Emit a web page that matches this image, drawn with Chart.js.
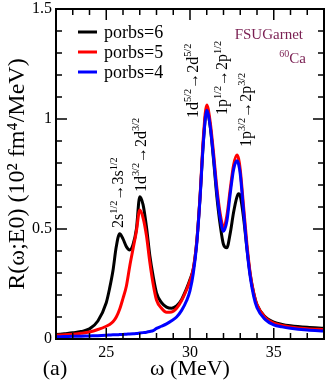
<!DOCTYPE html>
<html>
<head>
<meta charset="utf-8">
<script src="https://cdn.jsdelivr.net/npm/chart.js@4.4.0/dist/chart.umd.min.js"></script>
<style>
html, body { margin: 0; padding: 0; background: #fff; }
</style>
</head>
<body>
<canvas id="strength-chart" width="332" height="389"></canvas>
<script>
'use strict';

// excitation energy (MeV)
const energies = [22, 22.5, 23, 23.5, 24, 24.5, 25, 25.2, 25.4, 25.6, 25.8, 26, 26.2, 26.4, 26.6, 26.8,
    27, 27.2, 27.4, 27.6, 27.8, 28, 28.3, 28.6, 28.9, 29.2, 29.5, 29.8, 30, 30.2, 30.4, 30.6, 30.8,
    31, 31.2, 31.4, 31.6, 31.8, 32, 32.2, 32.4, 32.6, 32.8, 32.9, 33, 33.2, 33.4, 33.6, 33.8,
    34, 34.5, 35, 35.5, 36, 37, 38];

// R(w;E0) in 10^2 fm^4/MeV
const porbs6 = [0.020, 0.024, 0.028, 0.034, 0.046, 0.082, 0.165, 0.23, 0.31, 0.42, 0.478, 0.455, 0.42, 0.405, 0.43, 0.50,
    0.647, 0.61, 0.51, 0.38, 0.285, 0.21, 0.165, 0.145, 0.14, 0.15, 0.18, 0.23, 0.27, 0.32, 0.44, 0.645, 0.90,
    1.045, 0.97, 0.82, 0.65, 0.52, 0.43, 0.415, 0.48, 0.575, 0.645, 0.66, 0.65, 0.55, 0.41, 0.29, 0.21,
    0.155, 0.10, 0.077, 0.066, 0.06, 0.053, 0.049];
const porbs5 = [0.017, 0.019, 0.022, 0.026, 0.032, 0.043, 0.058, 0.066, 0.078, 0.10, 0.135, 0.185, 0.24, 0.33, 0.41, 0.49,
    0.586, 0.55, 0.47, 0.35, 0.25, 0.177, 0.14, 0.122, 0.123, 0.14, 0.175, 0.225, 0.265, 0.32, 0.44, 0.65, 0.92,
    1.064, 0.99, 0.85, 0.69, 0.57, 0.51, 0.56, 0.68, 0.79, 0.836, 0.82, 0.77, 0.60, 0.43, 0.295, 0.21,
    0.155, 0.097, 0.072, 0.062, 0.055, 0.047, 0.043];
const porbs4 = [0.010, 0.011, 0.012, 0.013, 0.014, 0.015, 0.017, 0.018, 0.019, 0.019, 0.020, 0.021, 0.022, 0.023, 0.024, 0.025,
    0.027, 0.029, 0.031, 0.034, 0.038, 0.048, 0.058, 0.069, 0.083, 0.10, 0.13, 0.175, 0.22, 0.30, 0.43, 0.64, 0.895,
    1.04, 0.97, 0.83, 0.67, 0.55, 0.49, 0.535, 0.66, 0.77, 0.81, 0.795, 0.75, 0.58, 0.41, 0.28, 0.195,
    0.142, 0.088, 0.064, 0.055, 0.049, 0.041, 0.036];

const seriesLabels = ['porbs=6', 'porbs=5', 'porbs=4'];
const seriesColors = ['#000000', '#ff0000', '#0000ff'];

const xTicks = [25, 30, 35];
const yTicks = [0, 0.5, 1, 1.5];

// transition labels: text pieces ([text, superscript?]), energy, strength where text starts
const transitionParts = [
    [['2s', 0], ['1/2', 1], ['\u21923s', 0], ['1/2', 1]],
    [['1d', 0], ['3/2', 1], ['\u21922d', 0], ['3/2', 1]],
    [['1d', 0], ['5/2', 1], ['\u21922d', 0], ['5/2', 1]],
    [['1p', 0], ['1/2', 1], ['\u21922p', 0], ['1/2', 1]],
    [['1p', 0], ['3/2', 1], ['\u21922p', 0], ['3/2', 1]]
];
const transitionE = [25.67, 26.99, 30.09, 31.88, 33.31];
const transitionR = [0.505, 0.668, 1.005, 1.018, 0.873];

const SERIF = '"Liberation Serif", "Times New Roman", serif';

function drawPieces(ctx, pieces, size) {
    let cx = 0;
    for (const [txt, sup] of pieces) {
        ctx.font = (sup ? size * 0.64 : size) + 'px ' + SERIF;
        ctx.fillText(txt, cx, sup ? -size * 0.4 : 0);
        cx += ctx.measureText(txt).width;
    }
}

const decorPlugin = {
    id: 'decor',
    afterDatasetsDraw(chart) {
        const ctx = chart.ctx;
        const a = chart.chartArea;
        const x = chart.scales.x;
        const y = chart.scales.y;
        ctx.save();

        // inward ticks on all four sides
        ctx.strokeStyle = '#000';
        ctx.lineWidth = 1.5;
        ctx.beginPath();
        for (let v = 23; v <= 37; v++) {
            const px = x.getPixelForValue(v);
            const len = v % 5 === 0 ? 11 : 6;
            ctx.moveTo(px, a.bottom); ctx.lineTo(px, a.bottom - len);
            ctx.moveTo(px, a.top); ctx.lineTo(px, a.top + len);
        }
        for (let i = 1; i < 15; i++) {
            const py = y.getPixelForValue(i / 10);
            const len = i % 5 === 0 ? 11 : 6;
            ctx.moveTo(a.left, py); ctx.lineTo(a.left + len, py);
            ctx.moveTo(a.right, py); ctx.lineTo(a.right - len, py);
        }
        ctx.stroke();

        ctx.lineWidth = 2;
        ctx.strokeRect(a.left, a.top, a.right - a.left, a.bottom - a.top);

        // legend
        ctx.textAlign = 'left';
        ctx.textBaseline = 'middle';
        ctx.font = '18px ' + SERIF;
        seriesLabels.forEach((label, i) => {
            const ly = 32 + i * 20;
            ctx.strokeStyle = seriesColors[i];
            ctx.lineWidth = 3;
            ctx.beginPath();
            ctx.moveTo(78, ly); ctx.lineTo(97, ly);
            ctx.stroke();
            ctx.fillStyle = '#000';
            ctx.fillText(label, 104, ly + 1);
        });

        // transition labels, rotated
        ctx.fillStyle = '#000';
        ctx.textBaseline = 'alphabetic';
        transitionParts.forEach((pieces, i) => {
            ctx.save();
            ctx.translate(x.getPixelForValue(transitionE[i]), y.getPixelForValue(transitionR[i]));
            ctx.rotate(-Math.PI / 2);
            ctx.translate(0, 6);
            drawPieces(ctx, pieces, 16);
            ctx.restore();
        });

        // model / nucleus
        ctx.fillStyle = '#7a1f52';
        ctx.textAlign = 'right';
        ctx.font = '15px ' + SERIF;
        ctx.fillText('FSUGarnet', 303, 39);
        ctx.fillText('Ca', 306, 63);
        const caW = ctx.measureText('Ca').width;
        ctx.font = '10px ' + SERIF;
        ctx.fillText('60', 306 - caW, 57);

        // panel label
        ctx.fillStyle = '#000';
        ctx.textAlign = 'center';
        ctx.textBaseline = 'middle';
        ctx.font = '22px ' + SERIF;
        ctx.fillText('(a)', 55, 369);
        ctx.restore();
    }
};

function makeDataset(i, values, order) {
    return {
        label: seriesLabels[i],
        data: energies.map((e, k) => ({ x: e, y: values[k] })),
        borderColor: seriesColors[i],
        backgroundColor: seriesColors[i],
        borderWidth: 3,
        pointRadius: 0,
        cubicInterpolationMode: 'monotone',
        fill: false,
        order: order
    };
}

const ctx = document.getElementById('strength-chart').getContext('2d');
new Chart(ctx, {
    type: 'line',
    data: {
        datasets: [
            makeDataset(0, porbs6, 3),
            makeDataset(1, porbs5, 2),
            makeDataset(2, porbs4, 1)
        ]
    },
    options: {
        responsive: false,
        animation: false,
        devicePixelRatio: 1,
        layout: { padding: { top: 9, right: 8, left: 0, bottom: 0 } },
        plugins: { legend: { display: false }, tooltip: { enabled: false } },
        scales: {
            x: {
                type: 'linear',
                min: 22,
                max: 38,
                grid: { display: false, drawTicks: false },
                border: { display: false },
                afterBuildTicks: s => { s.ticks = xTicks.map(v => ({ value: v })); },
                ticks: {
                    color: '#000',
                    font: { family: SERIF, size: 16, lineHeight: 1 },
                    padding: 6,
                    maxRotation: 0,
                    autoSkip: false,
                    callback: v => String(v)
                },
                title: {
                    display: true,
                    text: '\u03c9 (MeV)',
                    color: '#000',
                    font: { family: SERIF, size: 22, lineHeight: 1 },
                    padding: { top: 0, bottom: 9 }
                },
                afterFit: s => { s.height = 50; s.paddingLeft = 0; s.paddingRight = 0; }
            },
            y: {
                type: 'linear',
                min: 0,
                max: 1.5,
                grid: { display: false, drawTicks: false },
                border: { display: false },
                afterBuildTicks: s => { s.ticks = yTicks.map(v => ({ value: v })); },
                ticks: {
                    color: '#000',
                    font: { family: SERIF, size: 16, lineHeight: 1 },
                    padding: 4,
                    callback: v => String(v)
                },
                title: {
                    display: true,
                    text: 'R(\u03c9;E0) (10\u00b2 fm\u2074/MeV)',
                    color: '#000',
                    font: { family: SERIF, size: 24, lineHeight: 1 },
                    padding: { top: 6, bottom: 0 }
                },
                afterFit: s => { s.width = 56; s.paddingTop = 0; s.paddingBottom = 0; }
            }
        }
    },
    plugins: [decorPlugin]
});
</script>
</body>
</html>
